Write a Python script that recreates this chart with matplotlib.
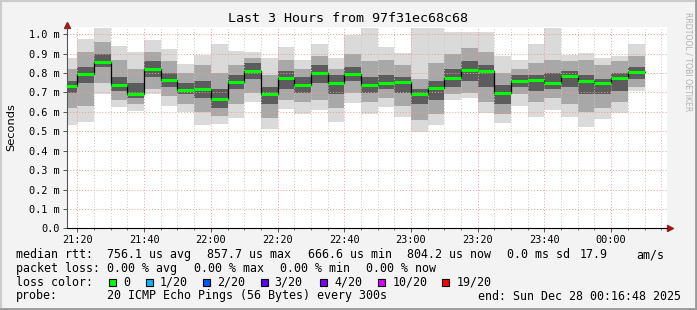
import numpy as np
import pandas as pd
import matplotlib
matplotlib.use("Agg")
import matplotlib.pyplot as plt
import matplotlib.dates as mdates
from matplotlib.ticker import MultipleLocator, FuncFormatter
from matplotlib.lines import Line2D
from matplotlib.patches import Rectangle

W, H = 697, 310
MONO = "DejaVu Sans Mono"

# start of each 5 minute step
steps = pd.date_range("2025-12-27 21:15", "2025-12-28 00:05", freq="5min")

# rtt in ms per step: extremes, mid band, dark core and median
rtt_lo = [.533, .55, .692, .624, .607, .692, .63, .60, .533, .537, .57, .653,
          .512, .613, .589, .61, .55, .648, .589, .624, .576, .498, .533, .66,
          .673, .593, .541, .63, .576, .61, .576, .524, .563, .593, .71]
rtt_lo2 = [.62, .63, .75, .66, .64, .72, .68, .64, .60, .58, .64, .70,
           .57, .66, .65, .66, .62, .70, .65, .67, .63, .56, .59, .69,
           .70, .65, .59, .69, .65, .67, .64, .60, .62, .65, .73]
rtt_lo3 = [.70, .75, .83, .71, .67, .78, .73, .69, .67, .62, .72, .77,
           .64, .72, .70, .75, .69, .76, .70, .72, .70, .64, .66, .73,
           .76, .73, .64, .73, .71, .72, .73, .69, .69, .71, .77]
rtt_med = [.734, .794, .857, .739, .694, .821, .765, .711, .716, .666, .753, .809,
           .692, .773, .74, .802, .75, .796, .737, .747, .753, .692, .723, .775,
           .814, .811, .70, .758, .765, .75, .785, .76, .747, .773, .804]
rtt_hi3 = [.76, .83, .90, .78, .75, .86, .80, .75, .76, .72, .79, .85,
           .73, .81, .78, .84, .79, .83, .78, .79, .78, .72, .76, .82,
           .86, .84, .74, .79, .79, .80, .81, .79, .77, .80, .83]
rtt_hi2 = [.82, .91, .96, .87, .82, .91, .86, .80, .84, .80, .84, .88,
           .79, .87, .82, .89, .82, .90, .86, .87, .84, .77, .85, .90,
           .93, .91, .80, .82, .85, .87, .86, .87, .84, .86, .89]
rtt_hi = [.878, .976, 1.034, .94, .907, .97, .924, .847, .893, .95, .916, .91,
          .88, .933, .868, .95, .876, .997, 1.03, .936, .902, 1.03, 1.03, 1.01,
          1.01, 1.01, .89, .868, .948, 1.034, .893, .905, .88, .888, .95]

loss_labels = ["0", "1/20", "2/20", "3/20", "4/20", "10/20", "19/20"]
loss_colors = ["#00ff00", "#00b8ff", "#0059ff", "#5e00ff", "#7e00ff", "#dd00ff", "#ff0000"]

fig = plt.figure(figsize=(W / 100, H / 100), dpi=100, facecolor="#f3f3f3")

def px(x, y):
    return x / W, 1 - y / H

ax = fig.add_axes([66.7 / W, (H - 228.3) / H, 600.5 / W, 1.04 * 194 / H])
ax.set_facecolor("white")

x = mdates.date2num(steps)
w = 5 / 1440
lo, lo2, lo3 = np.array(rtt_lo), np.array(rtt_lo2), np.array(rtt_lo3)
hi, hi2, hi3 = np.array(rtt_hi), np.array(rtt_hi2), np.array(rtt_hi3)
med = np.array(rtt_med)

ax.bar(x, hi - lo, bottom=lo, width=w, align="edge", color="#dadada", lw=0)
ax.bar(x, hi2 - lo2, bottom=lo2, width=w, align="edge", color="#a8a8a8", lw=0)
ax.bar(x, hi3 - lo3, bottom=lo3, width=w, align="edge", color="#5c5c5c", lw=0)

ax.step(np.r_[x, x[-1] + w], np.r_[med, med[-1]], where="post", color="black", lw=0.9, zorder=3)
ax.hlines(med, x, x + w, color="#00ff00", lw=2.2, zorder=4)

t0 = mdates.date2num(pd.Timestamp("2025-12-27 21:16:48"))
t1 = mdates.date2num(pd.Timestamp("2025-12-28 00:16:48"))
ax.set_xlim(t0, t1)
ax.set_ylim(0, 1.04)

ax.xaxis.set_major_locator(mdates.MinuteLocator(byminute=[0, 20, 40]))
ax.xaxis.set_minor_locator(mdates.MinuteLocator(byminute=range(0, 60, 5)))
ax.xaxis.set_major_formatter(mdates.DateFormatter("%H:%M"))
ax.yaxis.set_major_locator(MultipleLocator(0.1))
ax.yaxis.set_major_formatter(FuncFormatter(lambda v, p: "0.0" if abs(v) < 1e-9 else "%.1f m" % v))

ax.grid(which="minor", axis="x", color="#c8c8c8", ls=(0, (1, 2)), lw=0.7)
ax.grid(which="major", axis="x", color="#f09a9a", ls=(0, (1, 2)), lw=0.7)
ax.grid(which="major", axis="y", color="#f09a9a", ls=(0, (1, 2)), lw=0.7)

for s in ["top", "right"]:
    ax.spines[s].set_visible(False)
ax.spines["left"].set_color("#555555")
ax.spines["bottom"].set_color("black")
ax.tick_params(axis="both", which="major", length=3, width=0.7, color="#555555", labelsize=7.4, pad=2)
ax.tick_params(axis="x", which="minor", length=1.5, width=0.6, color="#555555")
for lab in ax.get_xticklabels() + ax.get_yticklabels():
    lab.set_fontfamily(MONO)

# axis arrows
ax.plot([0], [1.008], marker="^", ms=4, color="#a01818", transform=ax.transAxes, clip_on=False)
ax.plot([1.004], [0], marker=">", ms=4, color="#a01818", transform=ax.transAxes, clip_on=False)

fig.text(*px(348, 19), "Last 3 Hours from 97f31ec68c68", ha="center", va="center",
         fontfamily=MONO, fontsize=9.6)
fig.text(*px(11, 127), "Seconds", rotation=90, ha="center", va="center", fontsize=8.2)
fig.text(*px(688, 62), "RRDTOOL / TOBI OETIKER", rotation=270, ha="center", va="center",
         fontsize=5.6, color="#b0b0b0")

fs = 8.35
rows = [
    (254.7, [("median rtt:", 16), ("756.1 us avg", 107), ("857.7 us max", 207),
             ("666.6 us min", 308), ("804.2 us now", 407), ("0.0 ms sd", 507),
             ("17.9", 580), ("am/s", 636)]),
    (268.3, [("packet loss:", 16), ("0.00 % avg", 107), ("0.00 % max", 194),
             ("0.00 % min", 280), ("0.00 % now", 366)]),
    (282.3, [("loss color:", 16)]),
    (296, [("probe:", 16), ("20 ICMP Echo Pings (56 Bytes) every 300s", 107),
           ("end: Sun Dec 28 00:16:48 2025", 478)]),
]
for yy, parts in rows:
    for txt, xx in parts:
        fig.text(*px(xx, yy), txt, ha="left", va="center", fontfamily=MONO, fontsize=fs)

box_x = [109, 145.7, 203, 260.7, 320, 378.3, 442.3]
for bx, lab, col in zip(box_x, loss_labels, loss_colors):
    fig.add_artist(Rectangle(px(bx, 286), 7 / W, 7 / H, transform=fig.transFigure,
                             facecolor=col, edgecolor="black", lw=0.8))
    fig.text(*px(bx + 14, 282.3), lab, ha="left", va="center", fontfamily=MONO, fontsize=fs)

# 3d frame
fig.add_artist(Line2D([0, 1], [1 - 1 / H, 1 - 1 / H], transform=fig.transFigure, color="#cccccc", lw=1.5))
fig.add_artist(Line2D([1 / W, 1 / W], [0, 1], transform=fig.transFigure, color="#cccccc", lw=1.5))
fig.add_artist(Line2D([0, 1], [1.2 / H, 1.2 / H], transform=fig.transFigure, color="#999999", lw=2))
fig.add_artist(Line2D([1 - 1.2 / W, 1 - 1.2 / W], [0, 1], transform=fig.transFigure, color="#999999", lw=2))

fig.savefig("out.png", dpi=100, facecolor=fig.get_facecolor())
